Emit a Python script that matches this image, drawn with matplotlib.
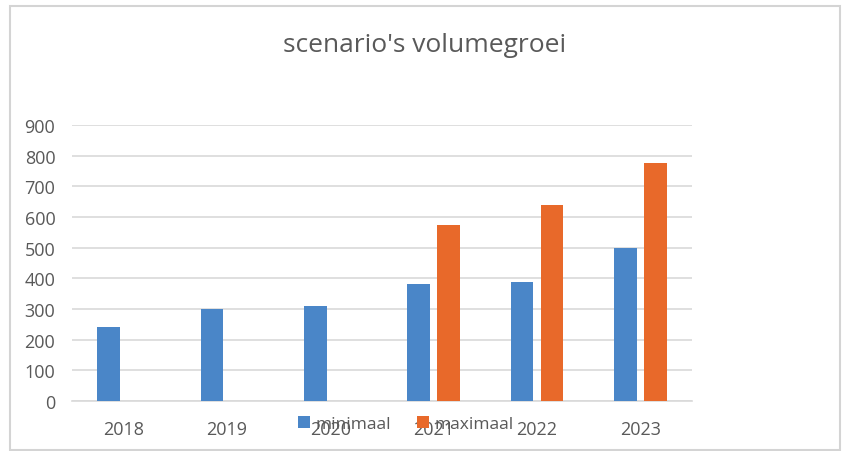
import numpy as np
import matplotlib.pyplot as plt
from matplotlib.patches import Rectangle

years = ['2018', '2019', '2020', '2021', '2022', '2023']
minimaal = [240, 300, 310, 380, 387, 500]
maximaal = [0, 0, 0, 575, 640, 775]

blue = '#4a86c8'
orange = '#e8692a'
grey = '#595959'

fig = plt.figure(figsize=(8.44, 4.52), dpi=100)
plt.rcParams['font.family'] = ['Open Sans', 'DejaVu Sans']

# light border around the chart area
fig.patches.append(Rectangle((10 / 844, 1 - 451 / 452), 830 / 844, 444 / 452,
                             transform=fig.transFigure, fill=False,
                             edgecolor='#d4d4d4', linewidth=1.5))

ax = fig.add_axes([72 / 844, 1 - 402 / 452, 620 / 844, 276 / 452])

ind = np.arange(len(years))
bar_width = 0.22
offset = 0.145

ax.bar(ind - offset, minimaal, bar_width, color=blue, label='minimaal', zorder=3)
ax.bar(ind + offset, maximaal, bar_width, color=orange, label='maximaal', zorder=3)

ax.set_xlim(-0.5, len(years) - 0.5)
ax.set_ylim(0, 900)
ax.set_yticks(np.arange(0, 901, 100))
ax.set_xticks(ind, years)
ax.yaxis.grid(True, color='#d9d9d9', linewidth=1.2, zorder=0)
ax.tick_params(length=0, colors=grey, labelsize=13)
ax.tick_params(axis='x', pad=14)
ax.tick_params(axis='y', pad=12)
for side in ['top', 'right', 'left']:
    ax.spines[side].set_visible(False)
ax.spines['bottom'].set_color('#d9d9d9')
ax.spines['bottom'].set_linewidth(1.2)

fig.text(425 / 844, 1 - 46 / 452, "scenario's volumegroei", ha='center',
         va='center', fontsize=19, color=grey)

fig.legend(loc='center', bbox_to_anchor=(406 / 844, 1 - 425 / 452),
           ncol=2, frameon=False, fontsize=12.5, labelcolor=grey,
           handlelength=0.7, handleheight=0.7, handletextpad=0.3,
           columnspacing=1.5)

plt.savefig('out.png', dpi=100)
